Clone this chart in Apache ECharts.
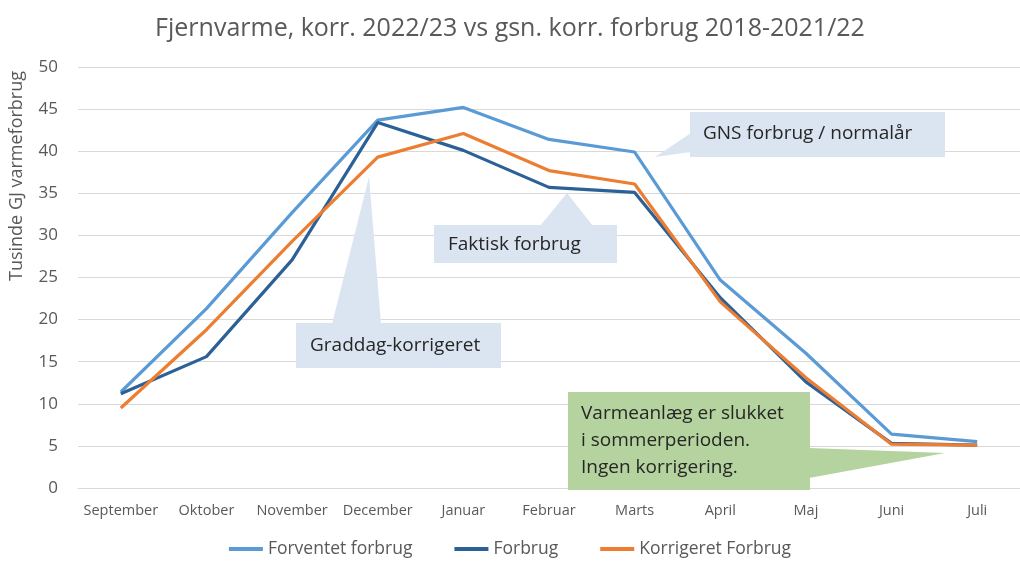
<!DOCTYPE html>
<html>
<head>
<meta charset="utf-8">
<script src="https://cdn.jsdelivr.net/npm/echarts@6/dist/echarts.min.js"></script>
<style>html,body{margin:0;padding:0;background:#fff}#c{width:1020px;height:563px}</style>
</head>
<body>
<div id="c"></div>
<script>
var months = ['September','Oktober','November','December','Januar','Februar','Marts','April','Maj','Juni','Juli'];
var forventet = [11.4, 21.3, 32.7, 43.7, 45.2, 41.4, 39.9, 24.7, 16.0, 6.4, 5.5];
var forbrug = [11.2, 15.6, 27.1, 43.4, 40.1, 35.7, 35.1, 22.6, 12.6, 5.3, 5.1];
var korrigeret = [9.5, 18.8, 29.3, 39.3, 42.1, 37.7, 36.1, 22.1, 13.1, 5.2, 5.1];
var seriesNames = ['Forventet forbrug', 'Forbrug', 'Korrigeret Forbrug'];
var colors = ['#5B9BD5', '#2B6197', '#ED7D31'];
var FONT = 'Open Sans';

var chart = echarts.init(document.getElementById('c'));
function line(name, data, color) {
  return {name: name, type: 'line', data: data, symbol: 'none', smooth: false,
    lineStyle: {width: 3.2, color: color}, itemStyle: {color: color}, z: 3};
}
var calloutFill = '#DBE5F1';
var txt = {fill: '#262626', fontFamily: FONT, fontSize: 19};
chart.setOption({
  animation: false,
  title: {text: 'Fjernvarme, korr. 2022/23 vs gsn. korr. forbrug 2018-2021/22', left: 'center', top: 11,
    textStyle: {fontFamily: FONT, fontSize: 25, fontWeight: 'normal', color: '#595959'}},
  grid: {left: 78, top: 67, width: 953, height: 421},
  legend: {bottom: 0, left: 'center', itemWidth: 34, itemHeight: 4, itemGap: 42, icon: 'rect',
    data: seriesNames,
    textStyle: {fontFamily: FONT, fontSize: 17.5, color: '#595959'}},
  xAxis: {type: 'category', data: months, boundaryGap: true,
    axisLine: {lineStyle: {color: '#D9D9D9'}}, axisTick: {show: false},
    axisLabel: {interval: 0, fontFamily: FONT, fontSize: 14.5, color: '#595959', margin: 15}},
  yAxis: {type: 'value', min: 0, max: 50, interval: 5,
    axisLine: {show: false}, axisTick: {show: false},
    splitLine: {lineStyle: {color: '#D9D9D9', width: 1}},
    axisLabel: {fontFamily: FONT, fontSize: 17, color: '#595959', margin: 20}},
  series: [line(seriesNames[0], forventet, colors[0]), line(seriesNames[1], forbrug, colors[1]), line(seriesNames[2], korrigeret, colors[2])],
  graphic: [
    {type: 'text', x: 17, y: 176, rotation: Math.PI / 2, style: {text: 'Tusinde GJ varmeforbrug', fill: '#595959', fontFamily: FONT, fontSize: 18, align: 'center', verticalAlign: 'middle'}},
    {type: 'polygon', z: 10, shape: {points: [[691, 133], [691, 152], [655, 157]]}, style: {fill: calloutFill}},
    {type: 'rect', z: 10, shape: {x: 690, y: 112, width: 255, height: 45}, style: {fill: calloutFill}},
    {type: 'text', z: 11, x: 703, y: 134, style: Object.assign({text: 'GNS forbrug / normalår', verticalAlign: 'middle'}, txt)},
    {type: 'polygon', z: 10, shape: {points: [[540, 226], [593, 226], [567, 193]]}, style: {fill: calloutFill}},
    {type: 'rect', z: 10, shape: {x: 434, y: 225, width: 183, height: 38}, style: {fill: calloutFill}},
    {type: 'text', z: 11, x: 448, y: 245, style: Object.assign({text: 'Faktisk forbrug', verticalAlign: 'middle'}, txt)},
    {type: 'polygon', z: 10, shape: {points: [[332, 324], [381, 324], [369, 177]]}, style: {fill: calloutFill}},
    {type: 'rect', z: 10, shape: {x: 296, y: 323, width: 205, height: 45}, style: {fill: calloutFill}},
    {type: 'text', z: 11, x: 310, y: 346, style: Object.assign({text: 'Graddag-korrigeret', verticalAlign: 'middle'}, txt)},
    {type: 'polygon', z: 10, shape: {points: [[809, 448], [809, 478], [945, 453]]}, style: {fill: '#B4D39E'}},
    {type: 'rect', z: 10, shape: {x: 568, y: 392, width: 242, height: 98}, style: {fill: '#B4D39E'}},
    {type: 'text', z: 11, x: 581, y: 441, style: Object.assign({text: 'Varmeanlæg er slukket\ni sommerperioden.\nIngen korrigering.', verticalAlign: 'middle', lineHeight: 27}, txt)}
  ]
});
</script>
</body>
</html>
